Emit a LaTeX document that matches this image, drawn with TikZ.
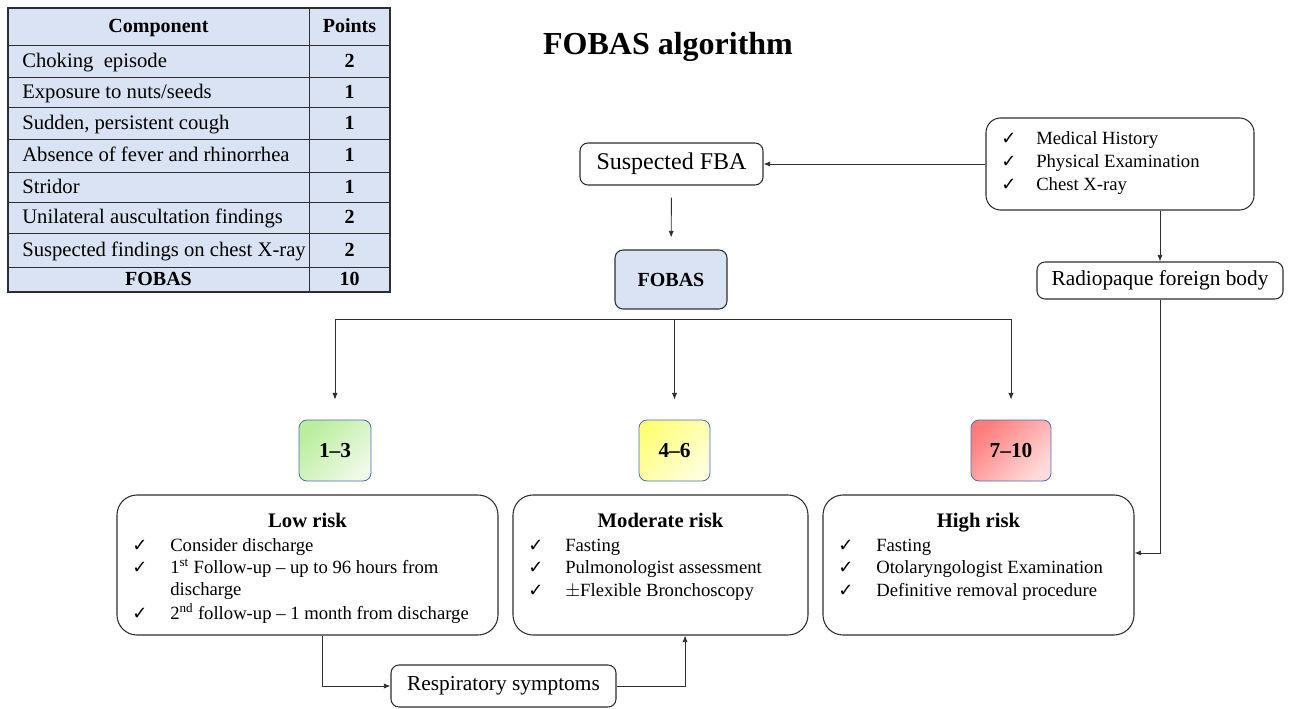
\documentclass[tikz,border=0pt]{standalone}
\usepackage{fontspec}
\setmainfont{Liberation Serif}
\newfontfamily\chkfont{DejaVu Sans}
\usetikzlibrary{arrows.meta,calc}

\definecolor{tblblue}{HTML}{DAE3F3}
\definecolor{lineg}{HTML}{2E2E2E}
\definecolor{scoreedge}{HTML}{4A6BB5}
\definecolor{lowA}{HTML}{B9EE9C}
\definecolor{lowB}{HTML}{EEF9E6}
\definecolor{modA}{HTML}{FFFF78}
\definecolor{modB}{HTML}{FFFFDC}
\definecolor{highA}{HTML}{FF7C7C}
\definecolor{highB}{HTML}{FFDADA}

\newcommand{\chk}{{\chkfont\fontsize{13.5}{15}\selectfont ✓}}

\tikzstyle{plainbox}=[draw=lineg, line width=0.8pt, rounded corners=6pt, fill=white, inner sep=0pt]
\tikzstyle{riskbox}=[draw=lineg, line width=0.8pt, rounded corners=15pt, inner sep=0pt, minimum height=140*0.75pt]
\tikzstyle{scorebox}=[draw=scoreedge, line width=0.6pt, rounded corners=6pt, inner sep=0pt, minimum height=61*0.75pt, font=\bfseries\fontsize{16}{19}\selectfont]
\tikzstyle{edge} = [draw, lineg, line width=0.7pt, -{Latex[length=5pt,width=4pt]}]
\tikzstyle{item}=[anchor=west, inner sep=0pt, text height=0.95em, text depth=0.05em, font=\fontsize{14}{17}\selectfont]
\tikzstyle{tick}=[inner sep=0pt, text height=0.95em, text depth=0.05em]
\tikzstyle{cell}=[inner sep=0pt, text height=1em, text depth=0.05em, font=\fontsize{15.5}{18}\selectfont]
\tikzstyle{headcell}=[cell, font=\bfseries\fontsize{15}{18}\selectfont]
\tikzstyle{risktitle}=[inner sep=0pt, text height=0.95em, text depth=0.05em, font=\bfseries\fontsize{15.5}{18}\selectfont]

\begin{document}
\begin{tikzpicture}[x=0.75pt, y=-0.75pt]
  \useasboundingbox (0,0) rectangle (1289,709);

  % score table
  \fill[tblblue] (8,8) rectangle (390,292);
  \foreach \y in {45,77,107,139,172,202,233,267}
     \draw[lineg, line width=0.7pt] (8,\y) -- (390,\y);
  \draw[lineg, line width=0.7pt] (309,8) -- (309,292);
  \draw[lineg, line width=1.2pt] (8,8) rectangle (390,292);

  \node[headcell] (hcomp) at (158.5,26.5) {Component};
  \node[headcell] (hpts) at (349.5,26.5) {Points};
  \foreach \y/\comp/\pts/\k in {61/Choking\ \ episode/2/1, 92/{Exposure to nuts/seeds}/1/2,
      123/{Sudden, persistent cough}/1/3, 155.5/Absence of fever and rhinorrhea/1/4,
      187/Stridor/1/5, 217.5/Unilateral auscultation findings/2/6,
      250/Suspected findings on chest X-ray/2/7}
  {
     \node[cell, anchor=west] (comp\k) at (22,\y) {\comp};
     \node[headcell] (pts\k) at (349.5,\y) {\pts};
  }
  \node[headcell] (fcomp) at (158.5,279.5) {FOBAS};
  \node[headcell] (fpts) at (349.5,279.5) {10};

  \node[font=\bfseries\fontsize{24}{28}\selectfont] (title) at (668,47) {FOBAS algorithm};

  % top of the flow
  \node[plainbox, minimum width=183*0.75pt, minimum height=42*0.75pt, font=\fontsize{18}{21}\selectfont] (sfba) at (671.5,164) {Suspected FBA};
  \node[plainbox, rounded corners=11pt, minimum width=268*0.75pt, minimum height=92*0.75pt] (hist) at (1120,164) {};
  \foreach \y/\txt/\k in {139/Medical History/1, 162/Physical Examination/2, 185/Chest X-ray/3}
  {
     \node[tick] (hchk\k) at (1009,\y) {\chk};
     \node[item] (hist\k) at (1036,\y) {\txt};
  }
  \node[plainbox, fill=tblblue, minimum width=112*0.75pt, minimum height=59*0.75pt, font=\bfseries\fontsize{15}{18}\selectfont] (fobas) at (671,279.5) {FOBAS};
  \node[plainbox, minimum width=246*0.75pt, minimum height=37*0.75pt, font=\fontsize{16}{19}\selectfont] (radio) at (1160,280.5) {Radiopaque foreign body};

  % score groups
  \node[scorebox, minimum width=72*0.75pt, left color=lowA, right color=lowB, shading angle=45] (g13) at (335,450.5) {1--3};
  \node[scorebox, minimum width=71*0.75pt, left color=modA, right color=modB, shading angle=45] (g46) at (674.5,450.5) {4--6};
  \node[scorebox, minimum width=80*0.75pt, left color=highA, right color=highB, shading angle=45] (g710) at (1011,450.5) {7--10};

  % risk boxes
  \node[riskbox, minimum width=381*0.75pt] (low) at (307.5,565) {};
  \node[riskbox, minimum width=295*0.75pt] (mod) at (660.5,565) {};
  \node[riskbox, minimum width=311*0.75pt] (high) at (978.5,565) {};

  \node[risktitle] (lowt) at (307.5,521) {Low risk};
  \foreach \y/\txt/\k in {545/Consider discharge/1, 567/{1\textsuperscript{st} Follow-up -- up to 96 hours from}/2,
      613/{2\textsuperscript{nd} follow-up -- 1 month from discharge}/4}
  {
     \node[tick] (lchk\k) at (140,\y) {\chk};
     \node[item] (low\k) at (170,\y) {\txt};
  }
  \node[item] (low3) at (170,589) {discharge};

  \node[risktitle] (modt) at (660.5,521) {Moderate risk};
  \foreach \y/\txt/\k in {545/Fasting/1, 567/Pulmonologist assessment/2, 590/$\pm$Flexible Bronchoscopy/3}
  {
     \node[tick] (mchk\k) at (536,\y) {\chk};
     \node[item] (mod\k) at (565,\y) {\txt};
  }

  \node[risktitle] (hight) at (978.5,521) {High risk};
  \foreach \y/\txt/\k in {545/Fasting/1, 567/Otolaryngologist Examination/2, 590/Definitive removal procedure/3}
  {
     \node[tick] (hchk\k) at (846,\y) {\chk};
     \node[item] (high\k) at (876,\y) {\txt};
  }

  \node[plainbox, minimum width=225*0.75pt, minimum height=42*0.75pt, font=\fontsize{16}{19}\selectfont] (resp) at (503.5,686) {Respiratory symptoms};

  % connectors
  \coordinate (bar) at (675,319);
  \draw[edge] (hist) -- (sfba);
  \draw[edge, shorten <=12*0.75pt, shorten >=12*0.75pt] (sfba) -- (fobas);
  \draw[lineg, line width=0.7pt] (g13 |- bar) -- (g710 |- bar);
  \foreach \g in {g13,g46,g710}
     \draw[edge, shorten >=20*0.75pt] (\g |- bar) -- (\g);
  \draw[edge] (radio |- hist.south) -- (radio);
  \draw[edge] (radio.south) |- ([yshift=9pt]high.east);
  \draw[edge] ([xshift=11pt]low.south) |- (resp.west);
  \draw[edge] (resp.east) -| ([xshift=18.4pt]mod.south);
\end{tikzpicture}
\end{document}
